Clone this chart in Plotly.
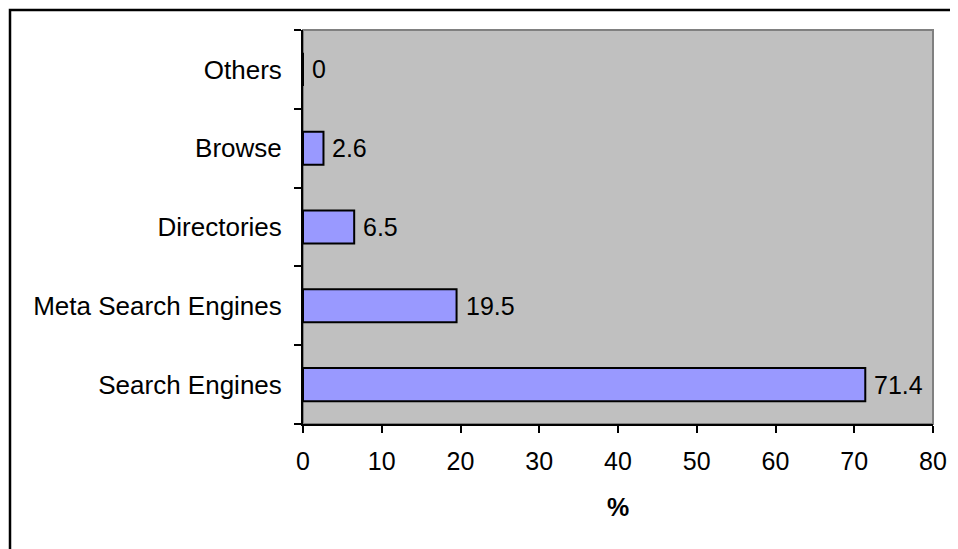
import plotly.graph_objects as go

categories = ["Search Engines", "Meta Search Engines", "Directories", "Browse", "Others"]
values = [71.4, 19.5, 6.5, 2.6, 0]
x_ticks = [0, 10, 20, 30, 40, 50, 60, 70, 80]

FONT = "Liberation Sans, Arial, sans-serif"
FS = 25

fig = go.Figure()
fig.add_trace(go.Bar(
    y=categories, x=values, orientation="h",
    marker=dict(color="#9999FF", line=dict(color="#000000", width=2)),
    width=0.42, hoverinfo="skip",
))

annotations = []
for c, v in zip(categories, values):
    annotations.append(dict(
        x=v, y=c, xref="x", yref="y", text=str(v), showarrow=False,
        xanchor="left", yanchor="middle", xshift=7,
        font=dict(family=FONT, size=FS, color="#000000"),
    ))

# figure is placed at page offset (8, 8) by the default body margin
W, H = 950, 541
L, R, T, B = 295, 25, 22, 125
pw, ph = W - L - R, H - T - B

def px_x(p):
    return (p - L) / pw

def px_y(p):
    return (H - B - p) / ph

shapes = [
    dict(type="rect", xref="paper", yref="paper", x0=0, x1=1, y0=0, y1=1,
         line=dict(color="#808080", width=2), layer="below"),
    dict(type="rect", xref="paper", yref="paper",
         x0=px_x(2), x1=px_x(990), y0=px_y(590), y1=px_y(2),
         line=dict(color="#000000", width=2.5)),
]

fig.update_layout(
    width=W, height=H,
    margin=dict(l=L, r=R, t=T, b=B, pad=0),
    paper_bgcolor="#FFFFFF", plot_bgcolor="#C0C0C0",
    font=dict(family=FONT, size=FS, color="#000000"),
    showlegend=False,
    bargap=0.58,
    annotations=annotations,
    shapes=shapes,
    xaxis=dict(
        range=[0, 80], tickvals=x_ticks, ticktext=[str(t) for t in x_ticks],
        showgrid=False, zeroline=False,
        showline=True, linecolor="#000000", linewidth=2,
        ticks="outside", ticklen=7, tickwidth=1.5, tickcolor="#000000",
        tickfont=dict(family=FONT, size=FS),
        ticklabelstandoff=7,
        title=dict(text="<b>%</b>", font=dict(family=FONT, size=FS), standoff=24),
        fixedrange=True,
    ),
    yaxis=dict(
        categoryorder="array", categoryarray=categories,
        showgrid=False, zeroline=False,
        showline=True, linecolor="#000000", linewidth=2,
        ticks="outside", ticklen=7, tickwidth=1.5, tickcolor="#000000",
        tickson="boundaries",
        tickfont=dict(family=FONT, size=26),
        ticklabelstandoff=14,
        fixedrange=True,
    ),
)

fig.write_html(
    "out.html",
    post_script="document.body.style.overflow='hidden';",
)
